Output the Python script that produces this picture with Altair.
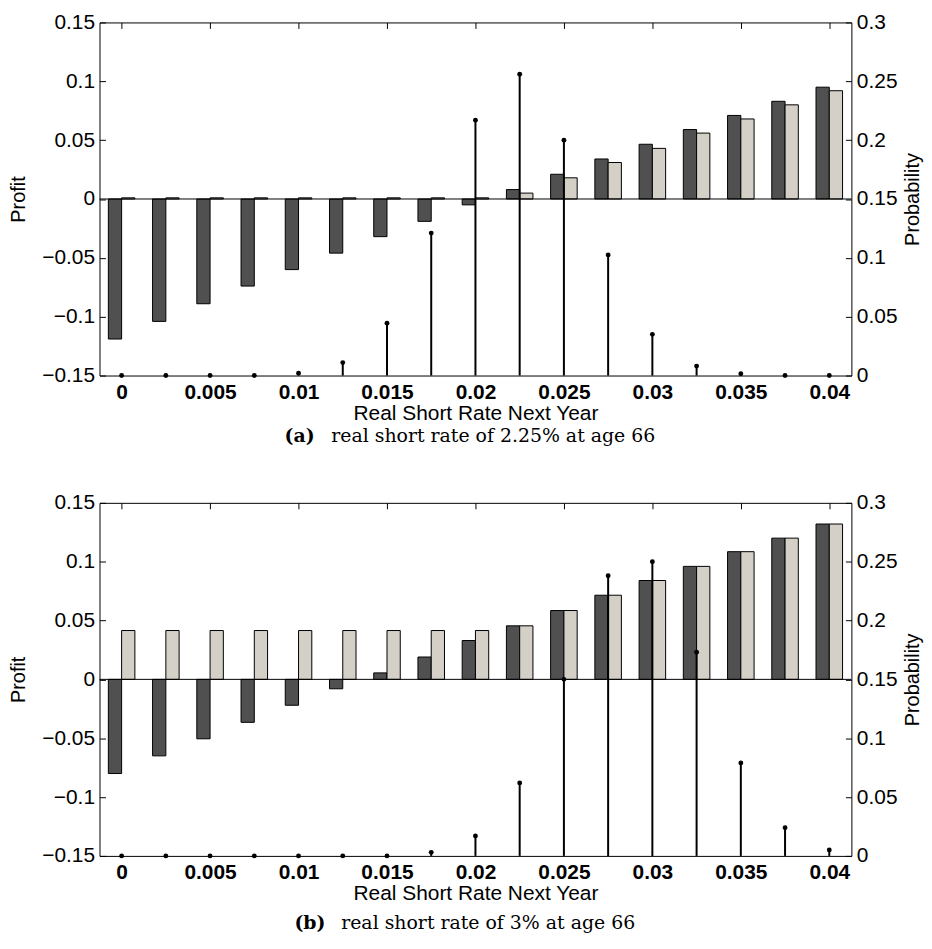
import altair as alt
import pandas as pd

rates = [0.0, 0.0025, 0.005, 0.0075, 0.01, 0.0125, 0.015, 0.0175, 0.02,
         0.0225, 0.025, 0.0275, 0.03, 0.0325, 0.035, 0.0375, 0.04]
x_ticks = [0.0, 0.005, 0.01, 0.015, 0.02, 0.025, 0.03, 0.035, 0.04]
profit_ticks = [-0.15, -0.1, -0.05, 0.0, 0.05, 0.1, 0.15]
prob_ticks = [0.0, 0.05, 0.1, 0.15, 0.2, 0.25, 0.3]

# Panel (a)
profit_a_dark = [-0.119, -0.104, -0.089, -0.074, -0.060, -0.046, -0.032, -0.019, -0.005,
                 0.008, 0.021, 0.034, 0.0465, 0.059, 0.071, 0.083, 0.095]
profit_a_light = [0.001, 0.001, 0.001, 0.001, 0.001, 0.001, 0.001, 0.001, 0.001,
                  0.005, 0.018, 0.031, 0.043, 0.056, 0.068, 0.080, 0.092]
prob_a = [0.0, 0.0, 0.0, 0.0, 0.002, 0.011, 0.0445, 0.121, 0.217,
          0.256, 0.200, 0.1025, 0.035, 0.008, 0.0015, 0.0, 0.0]

# Panel (b)
profit_b_dark = [-0.080, -0.065, -0.0505, -0.0365, -0.022, -0.008, 0.0055, 0.019, 0.033,
                 0.0455, 0.0585, 0.0715, 0.084, 0.096, 0.1085, 0.120, 0.132]
profit_b_light = [0.0415, 0.0415, 0.0415, 0.0415, 0.0415, 0.0415, 0.0415, 0.0415, 0.0415,
                  0.0455, 0.0585, 0.0715, 0.084, 0.096, 0.1085, 0.120, 0.132]
prob_b = [0.0, 0.0, 0.0, 0.0, 0.0, 0.0, 0.0, 0.003, 0.017,
          0.062, 0.150, 0.238, 0.250, 0.173, 0.079, 0.024, 0.005]

W = 756
H = 355
HALF = 0.00075  # width of each bar in a pair (data units)

LABEL_FONT = "Liberation Sans"
CAP_FONT = "DejaVu Serif"


def panel(dark, light, prob, letter, rest, x_letter, x_rest, cap_y):
    bars_df = pd.DataFrame({
        "rate": rates + rates,
        "profit": dark + light,
        "series": ["dark"] * len(rates) + ["light"] * len(rates),
    })
    prob_df = pd.DataFrame({"rate": rates, "prob": prob})
    one = pd.DataFrame({"z": [0]})

    xscale = alt.Scale(domain=[-0.00125, 0.04125], nice=False, zero=False)
    pscale = alt.Scale(domain=[-0.15, 0.15], nice=False, zero=False)
    qscale = alt.Scale(domain=[0, 0.3], nice=False, zero=False)

    bars = alt.Chart(bars_df).transform_calculate(
        x0="datum.rate - (datum.series == 'dark' ? %f : 0)" % HALF,
        x1="datum.rate + (datum.series == 'light' ? %f : 0)" % HALF,
    ).mark_bar(stroke="black", strokeWidth=1, opacity=1).encode(
        x=alt.X("x0:Q", scale=xscale,
                axis=alt.Axis(orient="bottom", values=x_ticks, format=".3~f",
                              ticks=False, domain=False, grid=False,
                              labelFont=LABEL_FONT, labelFontSize=21, labelFontWeight="bold",
                              labelColor="black", labelPadding=6,
                              title="Real Short Rate Next Year", titleFont=LABEL_FONT,
                              titleFontSize=21, titleFontWeight="normal", titleColor="black",
                              titlePadding=0)),
        x2="x1:Q",
        y=alt.Y("profit:Q", scale=pscale,
                axis=alt.Axis(orient="left", values=profit_ticks, format=".2~f",
                              ticks=False, domain=False, grid=False,
                              labelFont=LABEL_FONT, labelFontSize=21, labelColor="black",
                              labelPadding=5,
                              title="Profit", titleFont=LABEL_FONT, titleFontSize=20,
                              titleFontWeight="normal", titleColor="black", titlePadding=13)),
        y2=alt.datum(0),
        color=alt.Color("series:N",
                        scale=alt.Scale(domain=["dark", "light"], range=["#505050", "#d4d0c8"]),
                        legend=None),
    )

    zero = alt.Chart(one).mark_rule(color="black", strokeWidth=1).encode(
        y=alt.YDatum(0, scale=pscale,
                     axis=alt.Axis(orient="left", offset=-6, values=profit_ticks,
                                   ticks=True, tickSize=6, tickColor="black", tickWidth=1,
                                   labels=False, domain=False, grid=False, title=None)),
    )

    stems = alt.Chart(prob_df).mark_rule(color="black", strokeWidth=2).encode(
        x=alt.X("rate:Q", scale=xscale, axis=None),
        y=alt.Y("prob:Q", scale=qscale,
                axis=alt.Axis(orient="right", values=prob_ticks, format=".2~f",
                              ticks=False, domain=False, grid=False,
                              labelFont=LABEL_FONT, labelFontSize=21, labelColor="black",
                              labelPadding=5,
                              title="Probability", titleFont=LABEL_FONT, titleFontSize=20,
                              titleFontWeight="normal", titleColor="black", titleAngle=270,
                              titleBaseline="top", titlePadding=6)),
        y2=alt.datum(0),
    )

    dots = alt.Chart(prob_df).mark_circle(color="black", opacity=1, size=24).encode(
        x=alt.X("rate:Q", scale=xscale,
                axis=alt.Axis(orient="top", offset=-6, values=x_ticks,
                              ticks=True, tickSize=6, tickColor="black", tickWidth=1,
                              labels=False, domain=False, grid=False, title=None)),
        y=alt.Y("prob:Q", scale=qscale,
                axis=alt.Axis(orient="right", offset=-6, values=prob_ticks,
                              ticks=True, tickSize=6, tickColor="black", tickWidth=1,
                              labels=False, domain=False, grid=False, title=None)),
    )

    cap1 = alt.Chart(pd.DataFrame({"t": [letter]})).mark_text(
        font=CAP_FONT, fontSize=19, fontWeight="bold", align="left", baseline="middle",
        color="black",
    ).encode(text="t:N", x=alt.value(x_letter), y=alt.value(cap_y))

    cap2 = alt.Chart(pd.DataFrame({"t": [rest]})).mark_text(
        font=CAP_FONT, fontSize=19, fontWeight="normal", align="left", baseline="middle",
        color="black",
    ).encode(text="t:N", x=alt.value(x_rest), y=alt.value(cap_y))

    return alt.layer(bars, zero, stems, dots, cap1, cap2).resolve_scale(
        y="independent"
    ).resolve_axis(x="independent", y="independent").properties(width=W, height=H)


pa = panel(profit_a_dark, profit_a_light, prob_a, "(a)", "real short rate of 2.25% at age 66",
           186, 233, H + 61)
pb = panel(profit_b_dark, profit_b_light, prob_b, "(b)", "real short rate of 3% at age 66",
           196, 243, H + 67)

chart = alt.vconcat(pa, pb, spacing=44).properties(
    padding=0,
    background="white",
).configure_view(stroke="black", strokeWidth=1)

chart.save("out.html", embed_options={"renderer": "svg", "actions": False})
